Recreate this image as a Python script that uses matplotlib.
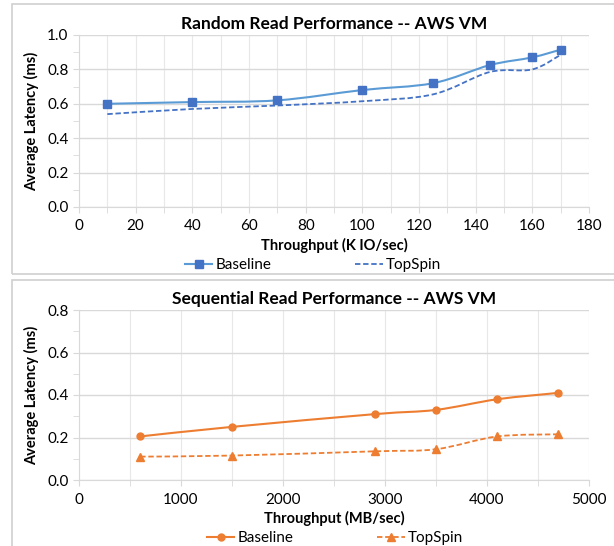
import numpy as np
import matplotlib.pyplot as plt
from matplotlib.path import Path
from matplotlib.patches import PathPatch, Rectangle
from matplotlib.lines import Line2D
from matplotlib.ticker import MultipleLocator

plt.rcParams['font.family'] = ['Lato', 'DejaVu Sans']

# random read (K IO/sec vs ms)
rand_x = [10, 40, 70, 100, 125, 145, 160, 170]
rand_base = [0.60, 0.61, 0.62, 0.68, 0.72, 0.825, 0.87, 0.915]
rand_top = [0.54, 0.57, 0.59, 0.615, 0.655, 0.785, 0.80, 0.885]

# sequential read (MB/sec vs ms)
seq_x = [600, 1500, 2900, 3500, 4100, 4700]
seq_base = [0.205, 0.25, 0.31, 0.33, 0.38, 0.41]
seq_top = [0.11, 0.115, 0.135, 0.145, 0.205, 0.215]

BLUE_LINE = '#5B9BD5'
BLUE = '#4472C4'
ORANGE = '#ED7D31'
GRID = '#D9D9D9'


def smooth_path(x, y):
    # excel-style smoothed line: cubic bezier with catmull-rom handles
    pts = np.column_stack([x, y]).astype(float)
    verts = [pts[0]]
    codes = [Path.MOVETO]
    n = len(pts)
    for i in range(n - 1):
        p0 = pts[i - 1] if i > 0 else pts[i]
        p1 = pts[i]
        p2 = pts[i + 1]
        p3 = pts[i + 2] if i + 2 < n else pts[i + 1]
        c1 = p1 + (p2 - p0) / 6.0
        c2 = p2 - (p3 - p1) / 6.0
        verts += [c1, c2, p2]
        codes += [Path.CURVE4] * 3
    return Path(verts, codes)


def style_axes(ax, xmax, xmaj, xmin, ymax, title, xlabel):
    ax.set_xlim(0, xmax)
    ax.set_ylim(0, ymax)
    ax.xaxis.set_major_locator(MultipleLocator(xmaj))
    ax.xaxis.set_minor_locator(MultipleLocator(xmin))
    ax.yaxis.set_major_locator(MultipleLocator(0.2))
    ax.yaxis.set_minor_locator(MultipleLocator(0.1))
    ax.yaxis.set_major_formatter(plt.FormatStrFormatter('%.1f'))
    ax.grid(True, which='major', axis='y', color=GRID, lw=1.0)
    ax.grid(True, which='both', axis='x', color='#E8E8E8', lw=0.8)
    for s in ['top', 'right']:
        ax.spines[s].set_visible(False)
    for s in ['left', 'bottom']:
        ax.spines[s].set_color(GRID)
    ax.tick_params(which='both', color=GRID, labelsize=11, length=4)
    ax.tick_params(axis='x', pad=5)
    ax.set_axisbelow(True)
    ax.set_title(title, fontsize=12.5, fontweight='bold', pad=4)
    ax.set_xlabel(xlabel, fontsize=10.5, fontweight='bold', labelpad=3)
    ax.set_ylabel('Average Latency (ms)', fontsize=10.5, fontweight='bold', labelpad=6)


fig = plt.figure(figsize=(6.14, 5.46), dpi=100)

# chart frames
fig.patches.append(Rectangle((12 / 614, 1 - 274 / 546), 1.0, 270 / 546, transform=fig.transFigure,
                             fill=False, ec='#D0D0D0', lw=1.2))
fig.patches.append(Rectangle((12 / 614, -0.01), 1.0, 1 - 280 / 546 + 0.01, transform=fig.transFigure,
                             fill=False, ec='#D0D0D0', lw=1.2))

ax1 = fig.add_axes([79 / 614, 1 - 207 / 546, 510 / 614, 172 / 546])
style_axes(ax1, 180, 20, 10, 1.0, 'Random Read Performance -- AWS VM', 'Throughput (K IO/sec)')
ax1.add_patch(PathPatch(smooth_path(rand_x, rand_base), fill=False, ec=BLUE_LINE, lw=1.5))
ax1.add_patch(PathPatch(smooth_path(rand_x, rand_top), fill=False, ec=BLUE, lw=1.3, ls=(0, (3, 1.5))))
ax1.plot(rand_x, rand_base, ls='none', marker='s', ms=6, color=BLUE)

ax2 = fig.add_axes([79 / 614, 1 - 480 / 546, 510 / 614, 170 / 546])
style_axes(ax2, 5000, 1000, 500, 0.8, 'Sequential Read Performance -- AWS VM', 'Throughput (MB/sec)')
ax2.add_patch(PathPatch(smooth_path(seq_x, seq_base), fill=False, ec=ORANGE, lw=1.5))
ax2.add_patch(PathPatch(smooth_path(seq_x, seq_top), fill=False, ec=ORANGE, lw=1.3, ls=(0, (3, 1.5))))
ax2.plot(seq_x, seq_base, ls='none', marker='o', ms=5, color=ORANGE)
ax2.plot(seq_x, seq_top, ls='none', marker='^', ms=5.5, color=ORANGE)

h1 = [Line2D([], [], color=BLUE_LINE, lw=1.5, marker='s', ms=6, mfc=BLUE, mec=BLUE),
      Line2D([], [], color=BLUE, lw=1.3, ls=(0, (3, 1.5)))]
fig.legend(h1, ['Baseline', 'TopSpin'], loc='center', bbox_to_anchor=(313 / 614, 1 - 265 / 546),
           ncol=2, frameon=False, fontsize=11, columnspacing=5.5, handlelength=1.8, handletextpad=0.2)

h2 = [Line2D([], [], color=ORANGE, lw=1.5, marker='o', ms=5),
      Line2D([], [], color=ORANGE, lw=1.3, ls=(0, (3, 1.5)), marker='^', ms=5.5)]
fig.legend(h2, ['Baseline', 'TopSpin'], loc='center', bbox_to_anchor=(335 / 614, 1 - 538 / 546),
           ncol=2, frameon=False, fontsize=11, columnspacing=5.5, handlelength=1.8, handletextpad=0.2)

fig.savefig('out.png', dpi=100)
